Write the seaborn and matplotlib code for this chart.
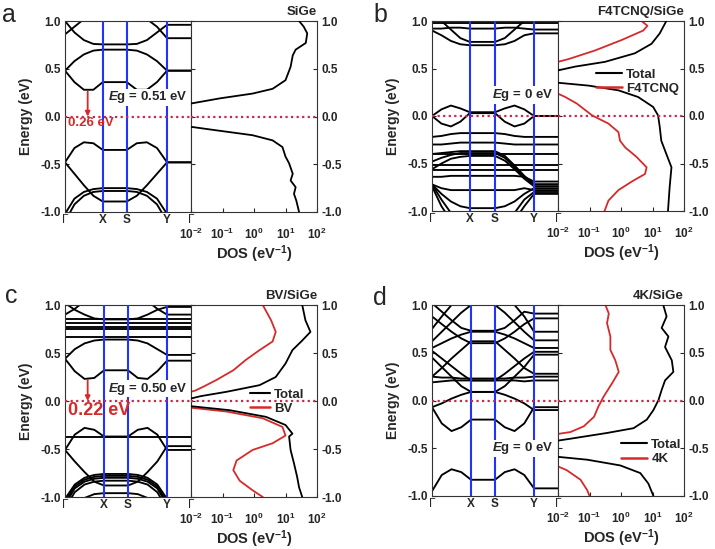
import numpy as np
import pandas as pd
import matplotlib
matplotlib.use("Agg")
import matplotlib.pyplot as plt
from matplotlib.lines import Line2D
import seaborn as sns

# -------------------------------------------------------------------
# Data
# -------------------------------------------------------------------
KLABELS = ["Γ", "X", "S", "Y", "Γ"]
kpath_a = [0.0, 0.30, 0.49, 0.81, 1.0]
kpath_b = [0.0, 0.30, 0.50, 0.81, 1.0]
kpath_c = [0.0, 0.31, 0.50, 0.81, 1.0]
kpath_d = [0.0, 0.31, 0.50, 0.81, 1.0]

# each band: energies (eV) at Γ, 3 pts on Γ-X, X, S, 3 pts on S-Y, Y, Γ
bands_a = [
    [0.48, 0.36, 0.28, 0.28, 0.36, 0.36, 0.28, 0.28, 0.36, 0.48, 0.48],
    [0.48, 0.58, 0.65, 0.69, 0.70, 0.70, 0.69, 0.65, 0.58, 0.48, 0.48],
    [1.00, 0.88, 0.80, 0.76, 0.755, 0.755, 0.76, 0.80, 0.88, 0.96, 0.96],
    [0.86, 0.94, 1.02, 1.08, 1.10, 1.10, 1.08, 1.02, 0.94, 0.82, 0.82],
    [-0.48, -0.33, -0.27, -0.28, -0.35, -0.35, -0.28, -0.27, -0.33, -0.48, -0.48],
    [-0.48, -0.60, -0.72, -0.83, -0.89, -0.89, -0.83, -0.72, -0.60, -0.48, -0.48],
    [-1.02, -0.86, -0.79, -0.76, -0.75, -0.75, -0.76, -0.79, -0.86, -1.02, -1.02],
    [-1.10, -0.92, -0.83, -0.79, -0.78, -0.78, -0.79, -0.83, -0.92, -1.10, -1.10],
]
bands_b = [
    [0.98, 0.98, 0.98, 0.98, 0.98, 0.98, 0.98, 0.98, 0.98, 0.98, 0.98],
    [0.92, 0.92, 0.93, 0.93, 0.92, 0.92, 0.93, 0.93, 0.92, 0.91, 0.91],
    [0.90, 0.85, 0.79, 0.755, 0.745, 0.745, 0.755, 0.79, 0.85, 0.87, 0.87],
    [1.06, 1.00, 0.91, 0.82, 0.78, 0.78, 0.82, 0.91, 1.00, 1.06, 1.06],
    [0.00, 0.07, 0.11, 0.08, 0.04, 0.04, 0.08, 0.11, 0.07, 0.00, 0.00],
    [0.00, -0.08, -0.11, -0.06, 0.03, 0.03, -0.06, -0.11, -0.08, 0.00, 0.00],
    [-0.22, -0.21, -0.19, -0.18, -0.18, -0.18, -0.19, -0.21, -0.22, -0.22, -0.22],
    [-0.30, -0.30, -0.29, -0.28, -0.28, -0.28, -0.29, -0.30, -0.30, -0.30, -0.30],
    [-0.40, -0.40, -0.40, -0.40, -0.40, -0.40, -0.40, -0.40, -0.40, -0.40, -0.40],
    [-0.40, -0.39, -0.38, -0.37, -0.37, -0.37, -0.42, -0.52, -0.63, -0.72, -0.72],
    [-0.48, -0.44, -0.41, -0.39, -0.39, -0.39, -0.44, -0.54, -0.64, -0.72, -0.72],
    [-0.56, -0.50, -0.45, -0.43, -0.42, -0.42, -0.47, -0.56, -0.66, -0.74, -0.74],
    [-0.52, -0.52, -0.52, -0.52, -0.52, -0.52, -0.52, -0.52, -0.52, -0.52, -0.52],
    [-0.57, -0.57, -0.57, -0.57, -0.57, -0.57, -0.57, -0.57, -0.57, -0.57, -0.57],
    [-0.64, -0.64, -0.63, -0.63, -0.63, -0.63, -0.63, -0.63, -0.64, -0.69, -0.69],
    [-0.72, -0.76, -0.78, -0.78, -0.78, -0.78, -0.78, -0.78, -0.76, -0.78, -0.78],
    [-0.72, -0.82, -0.90, -0.95, -0.97, -0.97, -0.95, -0.90, -0.82, -0.76, -0.76],
    [-0.72, -0.88, -1.02, -1.10, -1.12, -1.12, -1.10, -1.02, -0.88, -0.80, -0.80],
    [-0.74, -0.95, -1.10, -1.20, -1.22, -1.22, -1.20, -1.10, -0.95, -0.82, -0.82],
]
bands_c = [
    [0.44, 0.31, 0.23, 0.24, 0.32, 0.32, 0.24, 0.23, 0.31, 0.42, 0.42],
    [0.44, 0.54, 0.60, 0.63, 0.64, 0.64, 0.63, 0.60, 0.54, 0.48, 0.48],
    [0.67, 0.67, 0.67, 0.67, 0.67, 0.67, 0.67, 0.67, 0.67, 0.67, 0.67],
    [0.75, 0.75, 0.75, 0.75, 0.75, 0.75, 0.75, 0.75, 0.75, 0.75, 0.75],
    [0.77, 0.77, 0.77, 0.77, 0.77, 0.77, 0.77, 0.77, 0.77, 0.77, 0.77],
    [0.81, 0.81, 0.81, 0.81, 0.81, 0.81, 0.81, 0.81, 0.81, 0.81, 0.81],
    [0.85, 0.85, 0.85, 0.85, 0.85, 0.85, 0.85, 0.85, 0.85, 0.85, 0.85],
    [0.90, 0.96, 1.04, 1.10, 1.12, 1.12, 1.10, 1.04, 0.96, 0.90, 0.90],
    [1.02, 0.95, 0.90, 0.86, 0.85, 0.85, 0.86, 0.90, 0.95, 0.98, 0.98],
    [-0.37, -0.37, -0.37, -0.37, -0.37, -0.37, -0.37, -0.37, -0.37, -0.37, -0.37],
    [-0.51, -0.35, -0.28, -0.30, -0.37, -0.37, -0.30, -0.28, -0.35, -0.51, -0.51],
    [-0.51, -0.63, -0.74, -0.84, -0.88, -0.88, -0.84, -0.74, -0.63, -0.47, -0.47],
    [-1.02, -0.87, -0.80, -0.77, -0.76, -0.76, -0.77, -0.80, -0.87, -1.02, -1.02],
    [-1.05, -0.89, -0.82, -0.79, -0.78, -0.78, -0.79, -0.82, -0.89, -1.05, -1.05],
    [-1.08, -0.91, -0.84, -0.81, -0.80, -0.80, -0.81, -0.84, -0.91, -1.08, -1.08],
    [-1.12, -0.95, -0.87, -0.84, -0.83, -0.83, -0.84, -0.87, -0.95, -1.12, -1.12],
    [-1.25, -1.10, -1.01, -0.97, -0.96, -0.96, -0.97, -1.01, -1.10, -1.25, -1.25],
]
bands_d = [
    [-0.95, -0.78, -0.72, -0.75, -0.83, -0.83, -0.75, -0.72, -0.78, -0.92, -0.92],
    [-0.07, -0.24, -0.32, -0.28, -0.20, -0.20, -0.28, -0.32, -0.24, -0.07, -0.07],
    [-0.07, -0.03, 0.02, 0.06, 0.09, 0.09, 0.06, 0.02, -0.03, -0.10, -0.10],
    [0.45, 0.35, 0.25, 0.15, 0.09, 0.09, 0.15, 0.25, 0.35, 0.48, 0.48],
    [0.25, 0.24, 0.24, 0.23, 0.23, 0.23, 0.23, 0.24, 0.24, 0.25, 0.25],
    [0.19, 0.20, 0.21, 0.21, 0.21, 0.21, 0.21, 0.21, 0.20, 0.21, 0.21],
    [0.52, 0.44, 0.36, 0.28, 0.21, 0.21, 0.28, 0.36, 0.44, 0.51, 0.51],
    [0.25, 0.34, 0.44, 0.53, 0.62, 0.62, 0.53, 0.44, 0.34, 0.28, 0.28],
    [0.88, 0.80, 0.72, 0.65, 0.60, 0.60, 0.65, 0.72, 0.80, 0.86, 0.86],
    [0.55, 0.60, 0.65, 0.69, 0.72, 0.72, 0.69, 0.65, 0.60, 0.55, 0.55],
    [1.02, 0.93, 0.84, 0.76, 0.73, 0.73, 0.76, 0.84, 0.93, 0.91, 0.91],
    [0.62, 0.72, 0.82, 0.92, 1.00, 1.00, 0.92, 0.82, 0.72, 0.63, 0.63],
    [0.75, 0.88, 1.00, 1.10, 1.15, 1.15, 1.10, 1.00, 0.88, 0.72, 0.72],
]

# DOS curves (energy in eV, DOS in eV^-1); each part ends at the 10^-2 edge
a_tot_E = [[1.0, 0.94, 0.87, 0.77, 0.70, 0.64, 0.52, 0.38, 0.29, 0.24, 0.19, 0.136],
           [-0.108, -0.14, -0.196, -0.25, -0.32, -0.42, -0.49, -0.60, -0.67, -0.74, -0.81, -0.88, -1.0]]
a_tot = [[27, 38, 49, 44, 21, 17, 14.5, 10, 3.9, 0.9, 0.083, 0.01],
         [0.01, 0.05, 0.9, 3.9, 8, 10, 13, 17, 14.5, 21, 18.6, 22, 27]]

b_tot_E = [[1.0, 0.87, 0.76, 0.66, 0.57, 0.52, 0.48],
           [0.35, 0.32, 0.27, 0.20, 0.095, 0.007, -0.115, -0.26, -0.40, -0.54, -0.75, -1.0]]
b_tot = [[27.5, 17, 9.3, 2.75, 0.31, 0.035, 0.01],
         [0.01, 0.093, 0.83, 3.5, 10.5, 15, 17, 19, 27.5, 40, 35, 31]]
b_mol_E = [[1.0, 0.95, 0.90, 0.80, 0.69, 0.60, 0.57],
           [0.235, 0.20, 0.13, 0.007, -0.08, -0.17, -0.26, -0.33, -0.43, -0.54, -0.61, -0.69, -0.78, -0.89, -1.0]]
b_mol = [[4.5, 6.9, 5.1, 1.05, 0.15, 0.022, 0.01],
         [0.01, 0.017, 0.04, 0.12, 0.4, 0.83, 0.93, 1.35, 3.1, 6.5, 5.8, 2.2, 0.83, 0.4, 0.3]]

c_tot_E = [[1.0, 0.84, 0.72, 0.63, 0.53, 0.39, 0.25, 0.165, 0.096, 0.05, 0.026],
           [-0.054, -0.096, -0.165, -0.25, -0.34, -0.37, -0.51, -0.65, -0.79, -0.90, -1.0]]
c_tot = [[34, 43, 62, 34, 16.6, 10, 4.9, 1.5, 0.135, 0.02, 0.01],
         [0.01, 0.17, 2.4, 10, 16.6, 13, 14.5, 18.6, 23.4, 27, 34]]
c_mol_E = [[1.0, 0.84, 0.72, 0.62, 0.53, 0.43, 0.32, 0.22, 0.15, 0.11, 0.096],
           [-0.07, -0.11, -0.18, -0.27, -0.36, -0.44, -0.51, -0.62, -0.72, -0.83, -0.93, -1.0]]
c_mol = [[1.9, 3.5, 4.9, 3.9, 1.5, 0.56, 0.22, 0.065, 0.025, 0.014, 0.01],
         [0.01, 0.135, 1.9, 8, 10, 3.9, 0.9, 0.28, 0.22, 0.35, 0.9, 1.9]]

d_tot_E = [[1.0, 0.88, 0.76, 0.67, 0.56, 0.42, 0.30, 0.21, 0.11, 0.005, -0.10, -0.20, -0.29, -0.34, -0.40, -0.42],
           [-0.59, -0.62, -0.68, -0.76, -0.87, -1.0]]
d_tot = [[22, 28, 19.5, 32, 25, 41, 46, 25, 19.5, 15.5, 10.7, 6.6, 2.5, 0.36, 0.025, 0.01],
         [0.01, 0.085, 0.95, 4.1, 7.4, 10.7]]
d_mol_E = [[1.0, 0.91, 0.81, 0.67, 0.53, 0.42, 0.30, 0.18, 0.04, -0.065, -0.17, -0.27, -0.33, -0.35],
           [-0.69, -0.73, -0.83, -0.94, -1.0]]
d_mol = [[0.32, 0.41, 0.36, 0.46, 0.46, 0.66, 0.85, 0.52, 0.28, 0.19, 0.14, 0.066, 0.025, 0.01],
         [0.01, 0.019, 0.052, 0.085, 0.1]]

titles = ["SiGe", "F4TCNQ/SiGe", "BV/SiGe", "4K/SiGe"]
mol_names = [None, "F4TCNQ", "BV", "4K"]
gap_text = ["0.51 eV", "0 eV", "0.50 eV", "0 eV"]
cbm_shift = [0.26, None, 0.22, None]   # CBM above Fermi level (arrow)
cbm_k = [0.18, None, 0.18, None]

# -------------------------------------------------------------------
# Style
# -------------------------------------------------------------------
sns.set_style("ticks")
plt.rcParams["font.family"] = ["Liberation Sans", "DejaVu Sans"]
plt.rcParams["mathtext.fontset"] = "custom"
plt.rcParams["mathtext.rm"] = "Liberation Sans:bold"
plt.rcParams["mathtext.bf"] = "Liberation Sans:bold"
plt.rcParams["mathtext.it"] = "Liberation Sans:bold:italic"
plt.rcParams["axes.linewidth"] = 0.8
plt.rcParams["axes.edgecolor"] = "#333333"

RED = "#d62a2a"
BLUE = "#2233ff"
DOTRED = "#c8284a"


def band_frame(bands, kp):
    g, x, s, y, g2 = kp
    ks = [g, g + (x - g) * 0.25, g + (x - g) * 0.5, g + (x - g) * 0.75, x,
          s, s + (y - s) * 0.25, s + (y - s) * 0.5, s + (y - s) * 0.75, y, g2]
    rows = []
    for i, b in enumerate(bands):
        for k, e in zip(ks, b):
            rows.append((i, k, e))
    return pd.DataFrame(rows, columns=["band", "k", "E"])


def dos_frame(E_parts, D_parts):
    rows = []
    for i, (es, ds) in enumerate(zip(E_parts, D_parts)):
        for e, d in zip(es, ds):
            rows.append((i, e, d))
    return pd.DataFrame(rows, columns=["seg", "E", "dos"])


fig = plt.figure(figsize=(7.15, 5.49), dpi=100)
W, H = 715, 549

layout = [  # (band_left, dos_left, top, bottom) in pixels
    (65, 191, 21, 212),
    (432, 558, 21, 211),
    (65, 191, 305, 497),
    (432, 558, 305, 496),
]
all_bands = [bands_a, bands_b, bands_c, bands_d]
all_k = [kpath_a, kpath_b, kpath_c, kpath_d]
all_tot = [(a_tot_E, a_tot), (b_tot_E, b_tot), (c_tot_E, c_tot), (d_tot_E, d_tot)]
all_mol = [None, (b_mol_E, b_mol), (c_mol_E, c_mol), (d_mol_E, d_mol)]
letters = ["a", "b", "c", "d"]
letter_pos = [(9, 15), (380, 15), (11, 296), (380, 298)]
gap_pos = [(0.976, 0.20), (0.96, 0.22), (0.976, 0.13), (0.96, -0.50)]
leg_anchor = [None, (0.30, 0.75), (0.47, 0.565), (0.50, 0.30)]
leg_hlen = [2.0, 2.0, 1.5, 2.0]

for p in range(4):
    bl, dl, top, bot = layout[p]
    right = dl + 126
    ax = fig.add_axes([bl / W, 1 - bot / H, (dl - bl) / W, (bot - top) / H])
    ax2 = fig.add_axes([dl / W, 1 - bot / H, (right - dl) / W, (bot - top) / H])

    # ---- band structure ----
    kp = all_k[p]
    sns.lineplot(data=band_frame(all_bands[p], kp), x="k", y="E", units="band",
                 estimator=None, sort=False, color="black", lw=1.35, ax=ax,
                 legend=False, zorder=2)
    for kx in kp[1:4]:
        ax.axvline(kx, color=BLUE, lw=1.5, zorder=3)
    ax.axhline(0, color=DOTRED, lw=1.6, ls=(0, (1, 1.5)), zorder=4)
    ax.set_xlim(0, 1)
    ax.set_ylim(-1, 1)
    ax.set_xticks(kp)
    ax.set_xticklabels(KLABELS)
    for lab in ax.get_xticklabels():
        lab.set_fontweight("normal" if lab.get_text() == "Γ" else "bold")
        lab.set_fontsize(8.5)
    ax.tick_params(axis="x", length=0, pad=1.5)
    ax.set_yticks([-1.0, -0.5, 0.0, 0.5, 1.0])
    ax.set_yticklabels(["-1.0", "-0.5", "0.0", "0.5", "1.0"], fontweight="bold", fontsize=8.5)
    ax.tick_params(axis="y", direction="in", length=3, width=0.8, pad=3)
    ax.set_xlabel("")
    ax.set_ylabel("Energy (eV)", fontweight="bold", fontsize=10, labelpad=5)

    ax.text(gap_pos[p][0], gap_pos[p][1], r"$E$g = " + gap_text[p],
            transform=ax.get_yaxis_transform(), ha="right", va="center",
            fontsize=9.5, fontweight="bold", zorder=5,
            bbox=dict(facecolor="white", edgecolor="none", pad=0.5))

    if cbm_shift[p] is not None:
        ax.annotate("", xy=(cbm_k[p], 0.0), xytext=(cbm_k[p], cbm_shift[p]),
                    arrowprops=dict(arrowstyle="-|>", color=RED, lw=1.3,
                                    mutation_scale=7, shrinkA=0, shrinkB=0),
                    zorder=6)
        fs = 9.5 if p == 0 else 13
        ax.text(0.025, -0.07 if p == 0 else -0.10, f"{cbm_shift[p]:.2f} eV",
                color=RED, fontweight="bold", fontsize=fs, ha="left", va="center",
                zorder=6)

    # ---- DOS ----
    tot_df = dos_frame(*all_tot[p])
    sns.lineplot(data=tot_df, x="dos", y="E", units="seg", estimator=None,
                 sort=False, color="black", lw=1.3, ax=ax2, legend=False, zorder=3)
    if all_mol[p] is not None:
        mol_df = dos_frame(*all_mol[p])
        sns.lineplot(data=mol_df, x="dos", y="E", units="seg", estimator=None,
                     sort=False, color=RED, lw=1.3, ax=ax2, legend=False, zorder=2)
        handles = [Line2D([], [], color="black", lw=1.5),
                   Line2D([], [], color=RED, lw=1.8)]
        ax2.legend(handles, ["Total", mol_names[p]], loc="upper left",
                   bbox_to_anchor=leg_anchor[p], frameon=False,
                   prop=dict(weight="bold", size=9.5), handlelength=leg_hlen[p],
                   handletextpad=0.3, labelspacing=0.15, borderpad=0, borderaxespad=0)
    ax2.axhline(0, color=DOTRED, lw=1.6, ls=(0, (1, 1.5)), zorder=4)
    ax2.set_xscale("log")
    ax2.set_xlim(1e-2, 1e2)
    ax2.set_ylim(-1, 1)
    ax2.set_xticks([1e-2, 1e-1, 1e0, 1e1, 1e2])
    ax2.set_xticklabels([r"$\mathbf{10^{-2}}$", r"$\mathbf{10^{-1}}$", r"$\mathbf{10^{0}}$",
                         r"$\mathbf{10^{1}}$", r"$\mathbf{10^{2}}$"], fontsize=8.5)
    ax2.xaxis.set_minor_locator(matplotlib.ticker.NullLocator())
    ax2.tick_params(axis="x", direction="in", length=3, width=0.8, pad=11)
    ax2.set_yticks([-1.0, -0.5, 0.0, 0.5, 1.0])
    ax2.set_yticklabels(["-1.0", "-0.5", "0.0", "0.5", "1.0"], fontweight="bold", fontsize=8.5)
    ax2.yaxis.tick_right()
    ax2.tick_params(axis="y", which="both", direction="in", length=3, width=0.8,
                    left=True, right=True, labelleft=False, labelright=True, pad=3)
    ax2.set_ylabel("")
    ax2.set_xlabel(r"DOS (eV$^{\mathbf{-1}}$)", fontweight="bold", fontsize=10.5, labelpad=1)
    ax2.text(1.0, 1.015, titles[p], transform=ax2.transAxes, ha="right", va="bottom",
             fontweight="bold", fontsize=9.5)

    fig.text(letter_pos[p][0] / W, 1 - letter_pos[p][1] / H, letters[p],
             fontsize=18, ha="center", va="center")

fig.savefig("out.png", dpi=100)
